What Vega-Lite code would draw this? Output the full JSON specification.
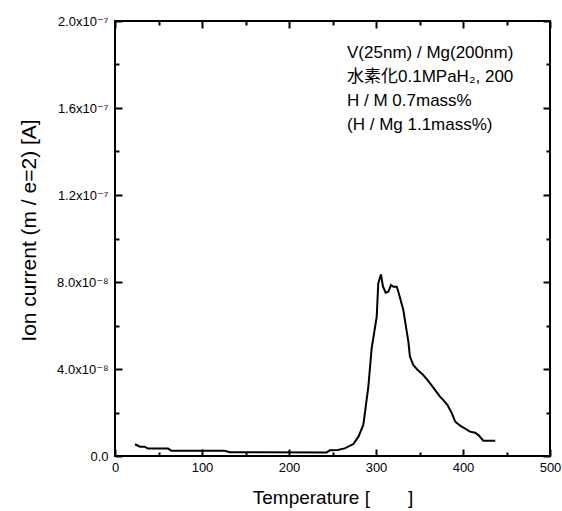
{
  "$schema": "https://vega.github.io/schema/vega-lite/v6.json",
  "width": 435,
  "height": 435,
  "autosize": {"type": "none"},
  "padding": {"left": 115, "top": 21, "right": 12, "bottom": 55},
  "config": {
    "view": {"stroke": "black", "strokeWidth": 2},
    "font": "Liberation Sans, Arial, Noto Sans CJK JP",
    "axis": {
      "grid": false,
      "domain": false,
      "tickColor": "black",
      "tickWidth": 2,
      "labelColor": "black",
      "labelFont": "Liberation Sans, DejaVu Sans",
      "labelFontSize": 13,
      "titleFont": "Liberation Sans, Noto Sans CJK JP",
      "titleFontWeight": "normal",
      "titleColor": "black",
      "labelFlush": false,
      "labelOverlap": false
    }
  },
  "datasets": {
    "ms": [
      {"T": 23, "I": 5.4e-9},
      {"T": 27, "I": 4.6e-9},
      {"T": 29, "I": 4.3e-9},
      {"T": 34, "I": 4.3e-9},
      {"T": 38, "I": 3.4e-9},
      {"T": 61, "I": 3.4e-9},
      {"T": 65, "I": 2.4e-9},
      {"T": 126, "I": 2.4e-9},
      {"T": 132, "I": 1.7e-9},
      {"T": 243, "I": 1.6e-9},
      {"T": 247, "I": 2.6e-9},
      {"T": 256, "I": 2.8e-9},
      {"T": 264, "I": 3.5e-9},
      {"T": 274, "I": 5.5e-9},
      {"T": 280, "I": 9e-9},
      {"T": 285.4, "I": 1.43e-8},
      {"T": 288, "I": 2.2e-8},
      {"T": 291.2, "I": 3.19e-8},
      {"T": 295, "I": 4.95e-8},
      {"T": 298, "I": 5.7e-8},
      {"T": 300.8, "I": 6.4e-8},
      {"T": 302.6, "I": 7.94e-8},
      {"T": 305.7, "I": 8.35e-8},
      {"T": 308, "I": 7.8e-8},
      {"T": 311.1, "I": 7.51e-8},
      {"T": 314.2, "I": 7.55e-8},
      {"T": 317.2, "I": 7.86e-8},
      {"T": 320, "I": 7.78e-8},
      {"T": 323.8, "I": 7.78e-8},
      {"T": 325.7, "I": 7.55e-8},
      {"T": 331.4, "I": 6.71e-8},
      {"T": 337.2, "I": 5.26e-8},
      {"T": 339, "I": 4.57e-8},
      {"T": 342.9, "I": 4.18e-8},
      {"T": 348, "I": 3.95e-8},
      {"T": 354.4, "I": 3.72e-8},
      {"T": 359, "I": 3.5e-8},
      {"T": 364, "I": 3.25e-8},
      {"T": 368, "I": 3.03e-8},
      {"T": 373.6, "I": 2.73e-8},
      {"T": 377.4, "I": 2.57e-8},
      {"T": 382, "I": 2.35e-8},
      {"T": 387, "I": 1.98e-8},
      {"T": 391, "I": 1.58e-8},
      {"T": 395, "I": 1.45e-8},
      {"T": 398.5, "I": 1.35e-8},
      {"T": 403, "I": 1.25e-8},
      {"T": 408, "I": 1.12e-8},
      {"T": 414, "I": 1.07e-8},
      {"T": 418, "I": 9.5e-9},
      {"T": 423.4, "I": 7e-9},
      {"T": 437, "I": 7e-9}
    ],
    "note": [
      {"label": ["V(25nm) / Mg(200nm)", "水素化0.1MPaH₂, 200", "H / M 0.7mass%", "(H / Mg 1.1mass%)"]}
    ]
  },
  "layer": [
    {
      "data": {"name": "ms"},
      "mark": {"type": "line", "color": "black", "strokeWidth": 2},
      "encoding": {
        "x": {
          "field": "T",
          "type": "quantitative",
          "scale": {"domain": [0, 500], "nice": false, "zero": false},
          "axis": {
            "orient": "bottom",
            "title": "Temperature [　　]",
            "titleFontSize": 19,
            "values": [0, 100, 200, 300, 400, 500],
            "offset": -7,
            "tickSize": 7,
            "labelPadding": 5,
            "titlePadding": 14
          }
        },
        "y": {
          "field": "I",
          "type": "quantitative",
          "scale": {"domain": [0, 2e-7], "nice": false},
          "axis": {
            "orient": "left",
            "title": "Ion current (m / e=2) [A]",
            "titleFontSize": 21,
            "titleY": 209,
            "values": [0, 4e-8, 8e-8, 1.2e-7, 1.6e-7, 2e-7],
            "offset": -7,
            "tickSize": 7,
            "labelExpr": "round(datum.value*1e8)==0 ? '0.0' : round(datum.value*1e8)==4 ? '4.0x10⁻⁸' : round(datum.value*1e8)==8 ? '8.0x10⁻⁸' : round(datum.value*1e8)==12 ? '1.2x10⁻⁷' : round(datum.value*1e8)==16 ? '1.6x10⁻⁷' : '2.0x10⁻⁷'",
            "labelPadding": 7,
            "titlePadding": 17
          }
        }
      }
    },
    {
      "data": {"name": "ms"},
      "mark": {"type": "line", "opacity": 0},
      "encoding": {
        "x": {
          "field": "T",
          "type": "quantitative",
          "axis": {"orient": "bottom", "title": null, "labels": false, "values": [50, 150, 250, 350, 450], "offset": -4, "tickSize": 4}
        },
        "y": {
          "field": "I",
          "type": "quantitative",
          "axis": {"orient": "left", "title": null, "labels": false, "values": [2e-8, 6e-8, 1e-7, 1.4e-7, 1.8e-7], "offset": -4, "tickSize": 4}
        }
      }
    },
    {
      "data": {"name": "ms"},
      "mark": {"type": "line", "opacity": 0},
      "encoding": {
        "x": {
          "field": "T",
          "type": "quantitative",
          "axis": {"orient": "top", "title": null, "labels": false, "values": [0, 100, 200, 300, 400, 500], "offset": -7, "tickSize": 7}
        },
        "y": {
          "field": "I",
          "type": "quantitative",
          "axis": {"orient": "right", "title": null, "labels": false, "values": [0, 4e-8, 8e-8, 1.2e-7, 1.6e-7, 2e-7], "offset": -7, "tickSize": 7}
        }
      }
    },
    {
      "data": {"name": "ms"},
      "mark": {"type": "line", "opacity": 0},
      "encoding": {
        "x": {
          "field": "T",
          "type": "quantitative",
          "axis": {"orient": "top", "title": null, "labels": false, "values": [50, 150, 250, 350, 450], "offset": -4, "tickSize": 4}
        },
        "y": {
          "field": "I",
          "type": "quantitative",
          "axis": {"orient": "right", "title": null, "labels": false, "values": [2e-8, 6e-8, 1e-7, 1.4e-7, 1.8e-7], "offset": -4, "tickSize": 4}
        }
      }
    },
    {
      "data": {"name": "note"},
      "mark": {"type": "text", "align": "left", "baseline": "alphabetic", "fontSize": 17, "lineHeight": 24, "color": "black", "font": "Liberation Sans, Noto Sans CJK JP"},
      "encoding": {
        "x": {"datum": 266.7, "type": "quantitative", "axis": null},
        "y": {"datum": 1.8285e-7, "type": "quantitative", "axis": null},
        "text": {"field": "label"}
      }
    }
  ],
  "resolve": {"axis": {"x": "independent", "y": "independent"}}
}
